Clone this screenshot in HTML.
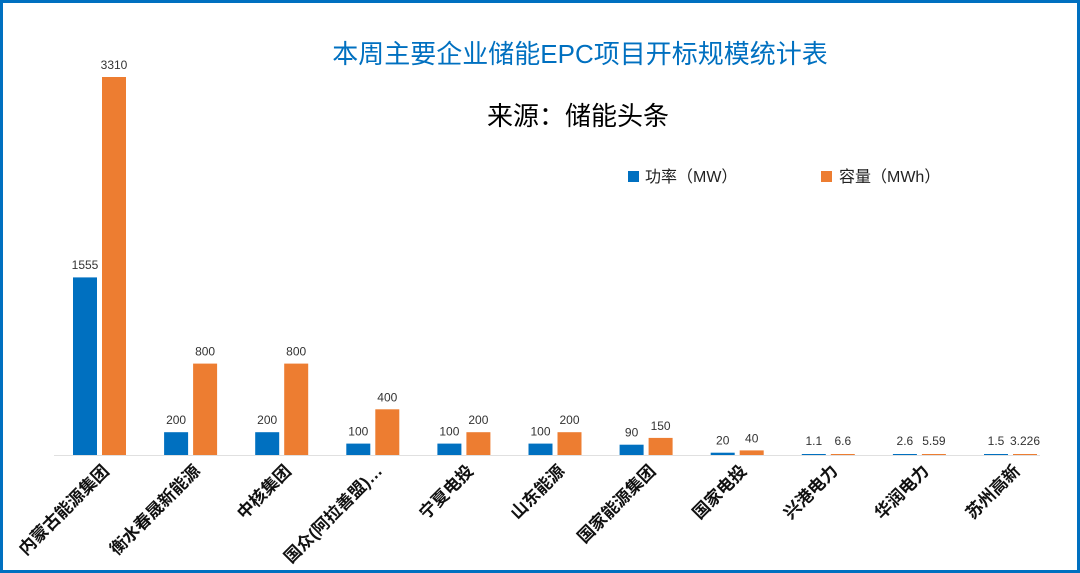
<!DOCTYPE html>
<html><head><meta charset="utf-8"><style>
body{margin:0;background:#fff}
svg{display:block;font-family:"Liberation Sans","Noto Sans CJK SC",sans-serif}
</style></head><body>
<svg width="1080" height="573" viewBox="0 0 1080 573">
<rect x="1.5" y="1.5" width="1077" height="570" fill="#fff" stroke="#0070c0" stroke-width="3"/>
<text x="580" y="63" font-size="26" fill="#0070c0" text-anchor="middle">本周主要企业储能EPC项目开标规模统计表</text>
<text x="578" y="125" font-size="26" fill="#000" text-anchor="middle">来源：储能头条</text>
<rect x="628" y="171" width="11" height="11" fill="#0070c0"/>
<text x="645" y="182" font-size="16" fill="#222">功率（MW）</text>
<rect x="821" y="171" width="11" height="11" fill="#ed7d31"/>
<text x="839" y="182" font-size="16" fill="#222">容量（MWh）</text>
<line x1="54" y1="455.5" x2="1040" y2="455.5" stroke="#e0e0e0" stroke-width="1"/>
<g fill="#0070c0">
<rect x="73" y="277.4" width="24" height="177.6"/>
<rect x="164.1" y="432.2" width="24" height="22.8"/>
<rect x="255.2" y="432.2" width="24" height="22.8"/>
<rect x="346.3" y="443.6" width="24" height="11.4"/>
<rect x="437.4" y="443.6" width="24" height="11.4"/>
<rect x="528.5" y="443.6" width="24" height="11.4"/>
<rect x="619.6" y="444.7" width="24" height="10.3"/>
<rect x="710.7" y="452.7" width="24" height="2.3"/>
<rect x="801.8" y="454" width="24" height="1"/>
<rect x="892.9" y="454" width="24" height="1"/>
<rect x="984" y="454" width="24" height="1"/>
</g>
<g fill="#ed7d31">
<rect x="102" y="77" width="24" height="378"/>
<rect x="193.1" y="363.6" width="24" height="91.4"/>
<rect x="284.2" y="363.6" width="24" height="91.4"/>
<rect x="375.3" y="409.3" width="24" height="45.7"/>
<rect x="466.4" y="432.2" width="24" height="22.8"/>
<rect x="557.5" y="432.2" width="24" height="22.8"/>
<rect x="648.6" y="437.9" width="24" height="17.1"/>
<rect x="739.7" y="450.4" width="24" height="4.6"/>
<rect x="830.8" y="454" width="24" height="1"/>
<rect x="921.9" y="454" width="24" height="1"/>
<rect x="1013" y="454" width="24" height="1"/>
</g>
<g font-size="12" fill="#333" text-anchor="middle">
<text x="85" y="269">1555</text><text x="114" y="69">3310</text>
<text x="176.1" y="424">200</text><text x="205.1" y="355.6">800</text>
<text x="267.2" y="424">200</text><text x="296.2" y="355.6">800</text>
<text x="358.3" y="435.6">100</text><text x="387.3" y="401.3">400</text>
<text x="449.4" y="435.6">100</text><text x="478.4" y="424">200</text>
<text x="540.5" y="435.6">100</text><text x="569.5" y="424">200</text>
<text x="631.6" y="436.7">90</text><text x="660.6" y="429.9">150</text>
<text x="722.7" y="444.7">20</text><text x="751.7" y="442.4">40</text>
<text x="813.8" y="445">1.1</text><text x="842.8" y="445">6.6</text>
<text x="904.9" y="445">2.6</text><text x="933.9" y="445">5.59</text>
<text x="996" y="445">1.5</text><text x="1025" y="445">3.226</text>
</g>
<g font-size="17" font-weight="bold" fill="#111" text-anchor="end">
<text x="110" y="472" transform="rotate(-45 110 472)">内蒙古能源集团</text>
<text x="201.1" y="472" transform="rotate(-45 201.1 472)">衡水春晟新能源</text>
<text x="292.2" y="472" transform="rotate(-45 292.2 472)">中核集团</text>
<text x="383.3" y="472" transform="rotate(-45 383.3 472)">国众(阿拉善盟)…</text>
<text x="474.4" y="472" transform="rotate(-45 474.4 472)">宁夏电投</text>
<text x="565.5" y="472" transform="rotate(-45 565.5 472)">山东能源</text>
<text x="656.6" y="472" transform="rotate(-45 656.6 472)">国家能源集团</text>
<text x="747.7" y="472" transform="rotate(-45 747.7 472)">国家电投</text>
<text x="838.8" y="472" transform="rotate(-45 838.8 472)">兴港电力</text>
<text x="929.9" y="472" transform="rotate(-45 929.9 472)">华润电力</text>
<text x="1021" y="472" transform="rotate(-45 1021 472)">苏州高新</text>
</g>
</svg>
</body></html>
